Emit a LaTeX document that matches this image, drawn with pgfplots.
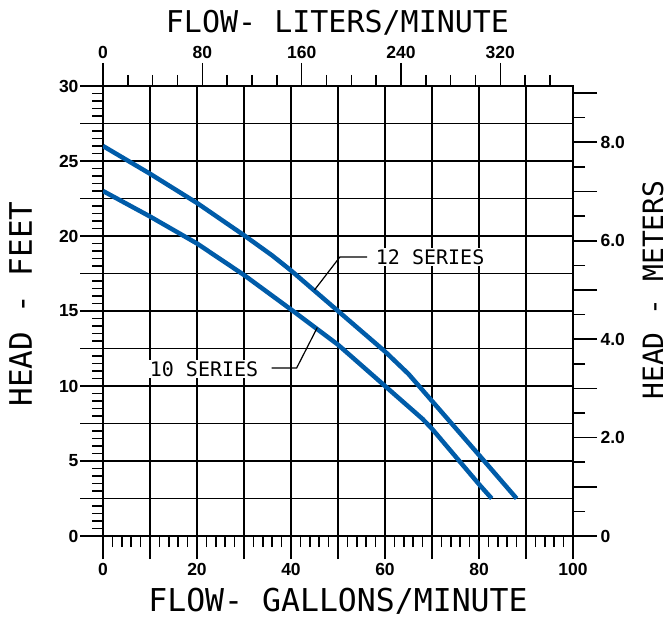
\documentclass[border=0pt]{standalone}
\usepackage{pgfplots}
\pgfplotsset{compat=1.18}
\usepackage{fontspec}
\setmainfont{Liberation Sans}
\newfontfamily\titlefont{DejaVu Sans Mono}
\definecolor{curveblue}{RGB}{0,92,169}

\pgfplotsset{
  common/.style={
    at={(0,0)}, anchor=south west,
    scale only axis, width=470pt, height=450pt,
    tick align=outside,
    every tick/.style={black, line width=1.6pt},
    tick label style={font=\bfseries\fontsize{17.5}{17.5}\selectfont, black},
    /pgf/number format/assume math mode=true,
  }
}

\begin{document}
\begin{tikzpicture}[x=1pt,y=1pt]
\useasboundingbox (-103,-83) rectangle (569,536);

% main axis: gallons per minute / feet
\begin{axis}[common,
  xmin=0, xmax=100, ymin=0, ymax=30,
  axis line style={line width=1.8pt},
  xtick={0,10,20,30,40,50,60,70,80,90,100},
  xticklabels={0,,20,,40,,60,,80,,100},
  ytick={0,2.5,5,7.5,10,12.5,15,17.5,20,22.5,25,27.5,30},
  yticklabels={0,,5,,10,,15,,20,,25,,30},
  minor xtick={0,2,...,100},
  minor ytick={0,0.5,...,30},
  xtick pos=bottom, ytick pos=left,
  major tick length=23pt, minor tick length=11pt,
  grid=major, major grid style={black, line width=1.6pt},
  xticklabel style={yshift=-1pt},
  yticklabel style={xshift=2pt},
]
% 12 series
\addplot[curveblue, line width=4.5pt] coordinates {
  (0,26.0) (10,24.15) (20,22.2) (30,20.05) (36,18.7) (40,17.7)
  (50,15.0) (60,12.3) (65,10.8) (70,9.0) (80,5.4) (88,2.5)
};
% 10 series
\addplot[curveblue, line width=4.5pt] coordinates {
  (0,23.0) (10,21.3) (20,19.5) (30,17.4) (40,15.1)
  (50,12.75) (60,10.0) (68,7.8) (70,7.15) (80,3.45) (82.7,2.5)
};
% annotations
\draw[black, line width=1.2pt] (axis cs:45,16.4) -- (axis cs:50.4,18.6) -- (axis cs:56.2,18.6);
\node[fill=white, inner sep=1.5pt, font=\titlefont\fontsize{20}{20}\selectfont]
  at (axis cs:69.6,18.6) {12 SERIES};
\draw[black, line width=1.2pt] (axis cs:45.6,13.9) -- (axis cs:41.2,11.2) -- (axis cs:35.9,11.2);
\node[fill=white, inner sep=1.5pt, font=\titlefont\fontsize{20}{20}\selectfont]
  at (axis cs:21.5,11.13) {10 SERIES};
\end{axis}

% top axis: liters per minute
\begin{axis}[common,
  xmin=0, xmax=378.5411784, ymin=0, ymax=30,
  axis x line*=top, hide y axis,
  axis line style={line width=1.8pt},
  xtick={0,80,160,240,320},
  minor xtick={0,20,...,360},
  major tick length=23pt, minor tick length=11pt,
  xticklabel style={yshift=1pt},
]
\end{axis}

% right axis: meters
\begin{axis}[common,
  xmin=0, xmax=100, ymin=0, ymax=9.144,
  axis y line*=right, hide x axis,
  axis line style={line width=1.8pt},
  ytick={0,1,2,3,4,5,6,7,8,9},
  yticklabels={0,,2.0,,4.0,,6.0,,8.0,},
  minor ytick={0.5,1.5,...,8.5},
  major tick length=24pt, minor tick length=12pt,
]
\end{axis}

% axis titles
\node[font=\titlefont\fontsize{30}{30}\selectfont, anchor=base] at (234.5,503) {FLOW- LITERS/MINUTE};
\node[font=\titlefont\fontsize{31.5}{31.5}\selectfont, anchor=base] at (235,-75) {FLOW- GALLONS/MINUTE};
\node[font=\titlefont\fontsize{31}{31}\selectfont, anchor=base, rotate=90] at (-71,232) {HEAD - FEET};
\node[font=\titlefont\fontsize{28}{28}\selectfont, anchor=base, rotate=90] at (560,246) {HEAD - METERS};
\end{tikzpicture}
\end{document}
